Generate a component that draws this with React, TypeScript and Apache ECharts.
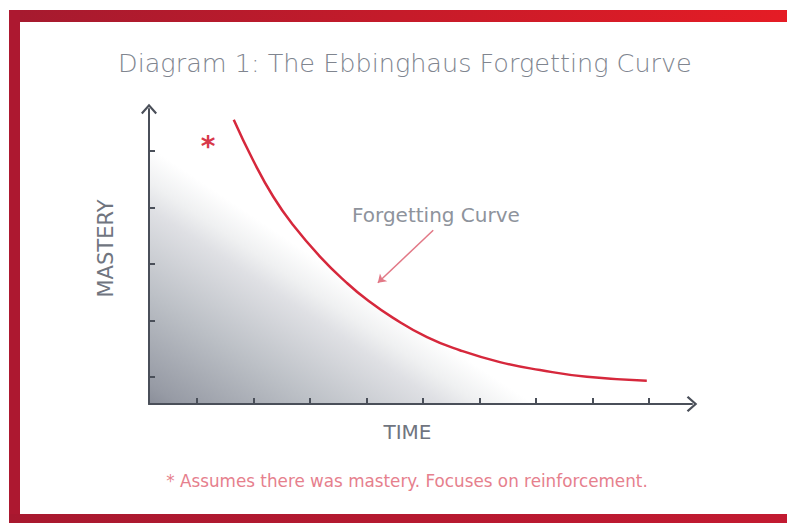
import React, { useEffect, useRef } from "react";
import * as echarts from "echarts";

const TITLE = "Diagram 1: The Ebbinghaus Forgetting Curve";
const X_NAME = "TIME";
const Y_NAME = "MASTERY";
const CURVE_LABEL = "Forgetting Curve";
const FOOTNOTE = "* Assumes there was mastery. Focuses on reinforcement.";

// tick counts (ticks are evenly spaced marks with no labels)
const X_TICK_COUNT = 9;
const Y_TICK_COUNT = 5;

const curveX = [1.65, 1.99, 2.35, 2.7, 3.18, 3.65, 4.01, 4.47, 5.07, 5.65, 6.36, 7.07, 7.9, 8.96];
const curveY = [5.52, 4.81, 4.16, 3.66, 3.1, 2.64, 2.34, 2.02, 1.68, 1.45, 1.24, 1.1, 0.98, 0.91];

const arrowFrom = [5.18, 3.57];
const arrowTo = [4.2, 2.64];

const X_MIN = 0.15;
const X_MAX = 9.76;
const Y_MIN = 0.5;
const Y_MAX = 5.71;

const AXIS_COLOR = "#4a4f59";
const CHEVRON = "path://M0,9 L8,0 L16,9 L14.4,10.6 L8,3.2 L1.6,10.6 Z";
const FONT = "DejaVu Sans";

export default function App() {
  const ref = useRef<HTMLDivElement>(null);
  useEffect(() => {
    if (!ref.current) return;
    const chart = echarts.init(ref.current, undefined, { renderer: "svg" });
    const curve = curveX.map((x, i) => [x, curveY[i]]);
    const area = [[X_MIN, curveY[0]], ...curve];
    const tickStyle = { color: AXIS_COLOR, width: 2 };
    chart.setOption({
      animation: false,
      backgroundColor: "#ffffff",
      title: {
        text: TITLE,
        left: 113,
        top: 45,
        textStyle: { fontFamily: FONT, fontSize: 25.5, fontWeight: 300, color: "#80858f" },
      },
      grid: [
        { left: 149, top: 109, right: 95, bottom: 119 },
        { left: 197, top: 109, right: 138, bottom: 119 },
        { left: 149, top: 151, right: 95, bottom: 146 },
      ],
      xAxis: [
        {
          type: "value",
          gridIndex: 0,
          z: 5,
          min: X_MIN,
          max: X_MAX,
          name: X_NAME,
          nameLocation: "middle",
          nameGap: 18,
          nameTextStyle: { fontFamily: FONT, fontSize: 20, color: "#70757f", padding: [0, 26, 0, 0] },
          splitLine: { show: false },
          axisLabel: { show: false },
          axisTick: { show: false },
          axisLine: {
            show: true,
            lineStyle: { color: AXIS_COLOR, width: 2 },
            symbol: ["none", CHEVRON],
            symbolSize: [16, 11],
          },
        },
        {
          type: "value",
          gridIndex: 1,
          z: 5,
          min: 0,
          max: X_TICK_COUNT - 1,
          interval: 1,
          splitLine: { show: false },
          axisLabel: { show: false },
          axisLine: { show: false },
          axisTick: { show: true, inside: true, length: 6, lineStyle: tickStyle },
        },
        { type: "value", gridIndex: 2, show: false, min: 0, max: 1 },
      ],
      yAxis: [
        {
          type: "value",
          gridIndex: 0,
          z: 5,
          min: Y_MIN,
          max: Y_MAX,
          name: Y_NAME,
          nameLocation: "middle",
          nameGap: 33,
          nameTextStyle: { fontFamily: FONT, fontSize: 21, color: "#70757f", padding: [0, 0, 0, 16] },
          splitLine: { show: false },
          axisLabel: { show: false },
          axisTick: { show: false },
          axisLine: {
            show: true,
            lineStyle: { color: AXIS_COLOR, width: 2 },
            symbol: ["none", CHEVRON],
            symbolSize: [16, 11],
          },
        },
        { type: "value", gridIndex: 1, show: false, min: 0, max: 1 },
        {
          type: "value",
          gridIndex: 2,
          z: 5,
          min: 0,
          max: Y_TICK_COUNT - 1,
          interval: 1,
          splitLine: { show: false },
          axisLabel: { show: false },
          axisLine: { show: false },
          axisTick: { show: true, inside: true, length: 6, lineStyle: tickStyle },
        },
      ],
      series: [
        {
          type: "line",
          xAxisIndex: 0,
          yAxisIndex: 0,
          data: area,
          smooth: true,
          symbol: "none",
          silent: true,
          z: 1,
          lineStyle: { width: 0, opacity: 0 },
          areaStyle: {
            origin: "start",
            opacity: 1,
            color: {
              type: "linear",
              global: true,
              x: 149,
              y: 404,
              x2: 268,
              y2: 226,
              colorStops: [
                { offset: 0, color: "#8a8e99" },
                { offset: 0.08, color: "#979ba5" },
                { offset: 0.43, color: "#bcc0c6" },
                { offset: 0.76, color: "#dfe0e4" },
                { offset: 0.86, color: "#eff0f1" },
                { offset: 1, color: "#ffffff" },
              ],
            },
          },
        },
        {
          type: "line",
          xAxisIndex: 0,
          yAxisIndex: 0,
          data: curve,
          smooth: true,
          symbol: "none",
          z: 6,
          lineStyle: { color: "#d6283c", width: 2.5 },
          markLine: {
            silent: true,
            symbol: ["none", "arrow"],
            symbolSize: 8,
            label: { show: false },
            lineStyle: { color: "#e27886", width: 1.5, type: "solid" },
            data: [[{ coord: arrowFrom }, { coord: arrowTo }]],
          },
        },
      ],
      graphic: [
        {
          type: "rect",
          z: 10,
          shape: { x: 9, y: 10, width: 778, height: 12 },
          style: {
            fill: {
              type: "linear",
              x: 0, y: 0, x2: 1, y2: 0,
              colorStops: [
                { offset: 0, color: "#a51a2f" },
                { offset: 1, color: "#e51c25" },
              ],
            },
          },
        },
        { type: "rect", z: 10, shape: { x: 9, y: 10, width: 11, height: 513 }, style: { fill: "#ad1830" } },
        {
          type: "rect",
          z: 10,
          shape: { x: 9, y: 514, width: 778, height: 9 },
          style: {
            fill: {
              type: "linear",
              x: 0, y: 0, x2: 1, y2: 0,
              colorStops: [
                { offset: 0, color: "#a8182f" },
                { offset: 1, color: "#c21a31" },
              ],
            },
          },
        },
        {
          type: "text",
          z: 10,
          x: 208,
          y: 146,
          style: { text: "*", fontFamily: FONT, fontSize: 28, fontWeight: "bold", fill: "#d8384a", align: "center", verticalAlign: "middle" },
        },
        {
          type: "text",
          z: 10,
          x: 352,
          y: 215,
          style: { text: CURVE_LABEL, fontFamily: FONT, fontSize: 20, fill: "#8e939c", verticalAlign: "middle" },
        },
        {
          type: "text",
          z: 10,
          x: 407,
          y: 481,
          style: { text: FOOTNOTE, fontFamily: FONT, fontSize: 16.8, fill: "#e6808d", align: "center", verticalAlign: "middle" },
        },
      ],
    });
    return () => chart.dispose();
  }, []);
  return <div ref={ref} style={{ position: "fixed", left: 0, top: 0, width: 787, height: 523 }} />;
}
